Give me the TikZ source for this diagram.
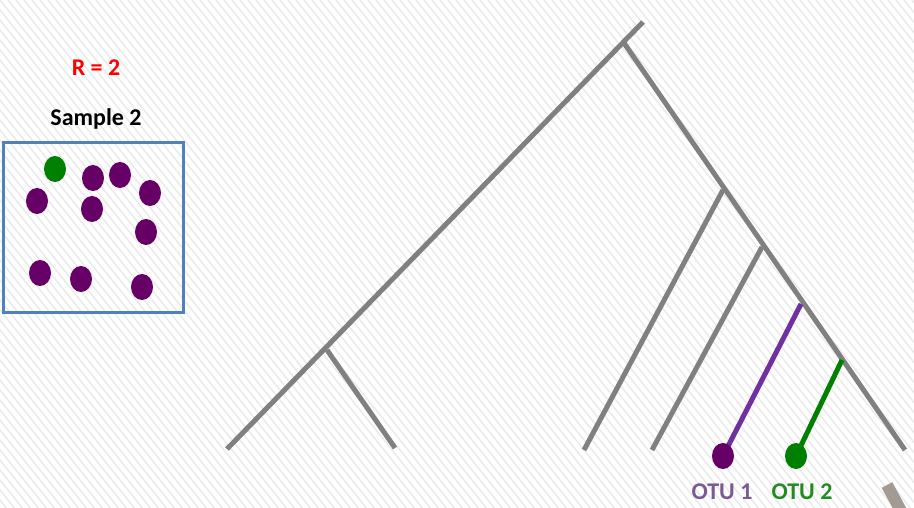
\documentclass[tikz,border=0pt]{standalone}
\usepackage{fontspec}
\setmainfont{Carlito}
\usetikzlibrary{shapes.geometric}
\definecolor{treegrey}{HTML}{808080}
\definecolor{boxblue}{HTML}{4F81BD}
\definecolor{dotpurple}{HTML}{660066}
\definecolor{dotgreen}{HTML}{008000}
\definecolor{linepurple}{HTML}{7030A0}
\definecolor{otupurple}{HTML}{7A5A92}
\definecolor{otugreen}{HTML}{228B22}
\definecolor{stripe}{HTML}{EBEBEB}
\definecolor{cornerbrown}{HTML}{A39A94}
\begin{document}
\begin{tikzpicture}[x=1pt,y=-1pt,
  branch/.style={draw=treegrey,line width=5pt},
  otubranch/.style={line width=5pt},
  cell/.style={ellipse,minimum width=22pt,minimum height=26pt,inner sep=0pt,fill=dotpurple},
  lbl/.style={font=\fontsize{24}{28}\selectfont\bfseries,inner sep=0pt}]
\useasboundingbox (0,0) rectangle (914,508);
\fill[white] (0,0) rectangle (914,508);
\begin{scope}
\clip (0,0) rectangle (914,508);
\foreach \i in {-55,...,115} \draw[stripe,line width=1.6pt] (\i*8,0) -- ++(420,525);
\draw[cornerbrown,line width=12pt] (887,485) -- (901,511);
\end{scope}
% tree coordinates
\coordinate (top) at (643,22);
\coordinate (root) at (624,43);
\coordinate (lend) at (227,449);
\coordinate (lsub) at (327,350);
\coordinate (lsubend) at (395,448);
\coordinate (rend) at (905,450);
\coordinate (j1) at (723,190);
\coordinate (j2) at (762,247);
\coordinate (j3) at (801,304);
\coordinate (j4) at (842,360);
\coordinate (b1end) at (584,450);
\coordinate (b2end) at (652,450);
\coordinate (p1) at (723,456);
\coordinate (p2) at (796,456);
\draw[branch] (top) -- (lend);
\draw[branch] (root) -- (rend);
\draw[branch] (lsub) -- (lsubend);
\draw[branch] (j1) -- (b1end);
\draw[branch] (j2) -- (b2end);
% OTUs
\draw[otubranch,linepurple] (j3) -- (p1);
\draw[otubranch,dotgreen] (j4) -- (p2);
\node[cell] (otu1) at (p1) {};
\node[cell,fill=dotgreen] (otu2) at (p2) {};
\node[lbl,text=otupurple] (l1) at (722,492) {OTU 1};
\node[lbl,text=otugreen] (l2) at (802,492) {OTU 2};
% sample
\node[lbl,text=red] (r) at (96,68) {R = 2};
\node[lbl,text=black] (s) at (96,119) {Sample 2};
\node[draw=boxblue,line width=3pt,minimum width=180pt,minimum height=169pt,inner sep=0pt] (box) at (93,227.5) {};
\node[cell,fill=dotgreen] (c0) at (55,169) {};
\node[cell] (c1) at (93,178) {};
\node[cell] (c2) at (120,175) {};
\node[cell] (c3) at (150,193) {};
\node[cell] (c4) at (37,201) {};
\node[cell] (c5) at (92,209) {};
\node[cell] (c6) at (146,232) {};
\node[cell] (c7) at (40,273) {};
\node[cell] (c8) at (81,279) {};
\node[cell] (c9) at (142,287) {};
\end{tikzpicture}
\end{document}
